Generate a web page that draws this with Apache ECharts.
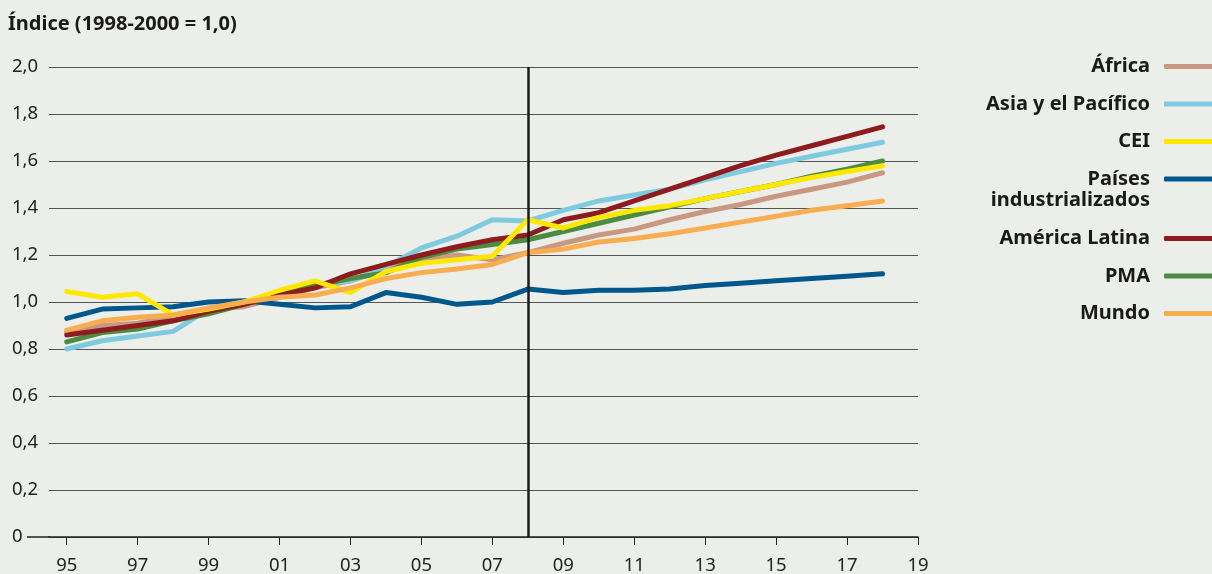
<!DOCTYPE html>
<html>
<head>
<meta charset="utf-8">
<script src="https://cdn.jsdelivr.net/npm/echarts@6/dist/echarts.min.js"></script>
<style>
  html, body { margin: 0; padding: 0; background: #eceee9; }
  #chart { width: 1212px; height: 574px; }
</style>
</head>
<body>
<div id="chart"></div>
<script>
// años de los datos
var years = [1995,1996,1997,1998,1999,2000,2001,2002,2003,2004,2005,2006,2007,2008,2009,2010,2011,2012,2013,2014,2015,2016,2017,2018];
// marcas del eje x
var xTicks = [1995,1997,1999,2001,2003,2005,2007,2009,2011,2013,2015,2017,2019];
// series
var africa = [0.87,0.90,0.91,0.94,0.97,0.98,1.02,1.06,1.09,1.14,1.18,1.20,1.18,1.21,1.25,1.285,1.31,1.35,1.385,1.415,1.45,1.48,1.51,1.55];
var asia = [0.80,0.835,0.855,0.875,0.97,1.00,1.03,1.07,1.09,1.15,1.23,1.28,1.35,1.345,1.39,1.43,1.455,1.48,1.52,1.555,1.59,1.62,1.65,1.68];
var cei = [1.045,1.02,1.035,0.945,0.97,1.00,1.05,1.09,1.04,1.13,1.165,1.18,1.195,1.35,1.315,1.36,1.39,1.41,1.44,1.47,1.50,1.53,1.555,1.58];
var paises = [0.93,0.97,0.975,0.98,1.00,1.005,0.99,0.975,0.98,1.04,1.02,0.99,1.00,1.055,1.04,1.05,1.05,1.055,1.07,1.08,1.09,1.10,1.11,1.12];
var latina = [0.86,0.88,0.90,0.92,0.96,0.99,1.03,1.06,1.12,1.16,1.20,1.235,1.265,1.285,1.35,1.38,1.43,1.48,1.53,1.58,1.625,1.665,1.705,1.745];
var pma = [0.83,0.87,0.885,0.92,0.95,0.99,1.03,1.07,1.10,1.125,1.19,1.225,1.245,1.265,1.30,1.335,1.37,1.405,1.44,1.47,1.50,1.535,1.565,1.60];
var mundo = [0.88,0.92,0.935,0.945,0.975,1.00,1.02,1.03,1.06,1.10,1.125,1.14,1.16,1.21,1.225,1.255,1.27,1.29,1.315,1.34,1.365,1.39,1.41,1.43];
// línea vertical
var markYear = 2008;

var FONT = "'Noto Sans', 'Open Sans', sans-serif";

// [año, valor]
function pares(arr){
  return years.map(function(y, i){ return [y, arr[i]]; });
}

function serie(name, data, color){
  return {
    name: name,
    type: 'line',
    data: pares(data),
    symbol: 'none',
    lineStyle: { width: 5, color: color, cap: 'round', join: 'round' },
    itemStyle: { color: color },
    emphasis: { disabled: true }
  };
}

var colores = {
  'África': '#c99882',
  'Asia y el Pacífico': '#7fcadf',
  'CEI': '#ffe800',
  'Países': '#00578c',
  'América Latina': '#8e1b1e',
  'PMA': '#4b8b42',
  'Mundo': '#f8ae50'
};

var legendText = {
  fontFamily: FONT,
  fontSize: 20,
  fontWeight: 'bold',
  color: '#1a1a1a',
  lineHeight: 22,
  padding: [0, 9, 0, 0]
};

var paisesSerie = serie('Países', paises, colores['Países']);
paisesSerie.markLine = {
  silent: true,
  symbol: ['none', 'none'],
  label: { show: false },
  lineStyle: { color: '#1a1a1a', width: 2.5, type: 'solid' },
  data: [{ xAxis: markYear }]
};

var chart = echarts.init(document.getElementById('chart'));
chart.setOption({
  animation: false,
  backgroundColor: '#eceee9',
  title: {
    text: 'Índice (1998-2000 = 1,0)',
    left: 8,
    top: 14,
    padding: 0,
    textStyle: { fontFamily: FONT, fontSize: 20, fontWeight: 'bold', color: '#1a1a1a' }
  },
  legend: [
    {
      data: ['África', 'Asia y el Pacífico', 'CEI', 'Países'],
      orient: 'vertical',
      align: 'right',
      right: -12,
      top: 55.5,
      padding: 0,
      itemGap: 15.5,
      itemWidth: 60,
      itemHeight: 5,
      icon: 'roundRect',
      selectedMode: false,
      textStyle: legendText
    },
    {
      data: ['América Latina', 'PMA', 'Mundo'],
      orient: 'vertical',
      align: 'right',
      right: -12,
      top: 227.5,
      padding: 0,
      itemGap: 15.5,
      itemWidth: 60,
      itemHeight: 5,
      icon: 'roundRect',
      selectedMode: false,
      textStyle: legendText
    }
  ],
  graphic: [
    {
      type: 'text',
      right: 62,
      top: 190,
      style: {
        text: 'industrializados',
        font: 'bold 20px ' + FONT,
        fill: '#1a1a1a'
      }
    },
    {
      // prolongación de la línea base hacia la izquierda
      type: 'line',
      shape: { x1: 27, y1: 537, x2: 50, y2: 537 },
      style: { stroke: '#222', lineWidth: 1.5 }
    }
  ],
  grid: {
    left: 49,
    right: 294,
    top: 67,
    bottom: 37,
    outerBoundsMode: 'none'
  },
  xAxis: {
    type: 'value',
    min: 1994.5,
    max: 2019,
    splitLine: { show: false },
    axisLine: { lineStyle: { color: '#222', width: 1.5 } },
    axisTick: {
      customValues: xTicks,
      length: 8,
      lineStyle: { color: '#222', width: 1 }
    },
    axisLabel: {
      customValues: xTicks,
      margin: 19,
      fontFamily: FONT,
      fontSize: 18.5,
      color: '#222',
      formatter: function(v){ return String(v).slice(2); }
    }
  },
  yAxis: {
    type: 'value',
    min: 0,
    max: 2,
    interval: 0.2,
    axisLine: { show: false },
    axisTick: { show: false },
    splitLine: { lineStyle: { color: '#555', width: 1.2 } },
    axisLabel: {
      align: 'left',
      margin: 37,
      fontFamily: FONT,
      fontSize: 18.5,
      color: '#222',
      formatter: function(v){
        if (v === 0) return '0';
        return v.toFixed(1).replace('.', ',');
      }
    }
  },
  series: [
    serie('África', africa, colores['África']),
    serie('Asia y el Pacífico', asia, colores['Asia y el Pacífico']),
    paisesSerie,
    serie('PMA', pma, colores['PMA']),
    serie('América Latina', latina, colores['América Latina']),
    serie('CEI', cei, colores['CEI']),
    serie('Mundo', mundo, colores['Mundo'])
  ]
});
</script>
</body>
</html>
